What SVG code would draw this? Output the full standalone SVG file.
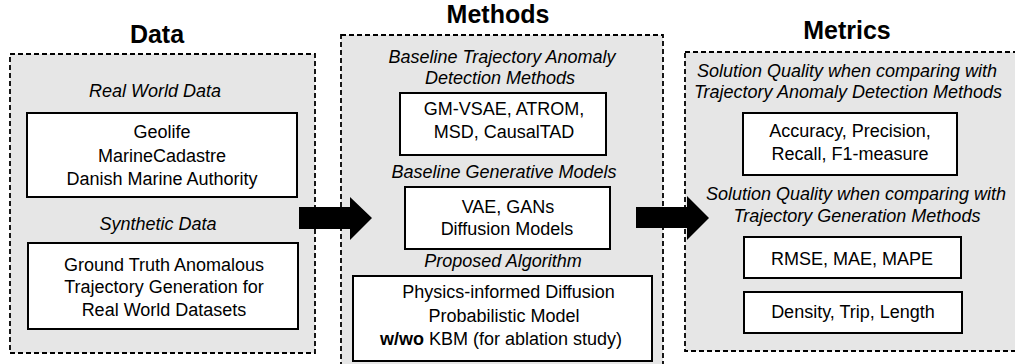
<svg xmlns="http://www.w3.org/2000/svg" width="1015" height="364" viewBox="0 0 1015 364">
<style>
.panel{fill:#e6e6e6;stroke:#000;stroke-width:1.8;stroke-dasharray:5,3}
.box{fill:#fff;stroke:#000;stroke-width:2}
text{font-family:"Liberation Sans",Arial,sans-serif;fill:#000;text-anchor:middle}
.t{font-size:25px;font-weight:bold}
.i{font-size:18px;font-style:italic}
.n{font-size:18px}
.arrow{fill:#000}
</style>
<rect width="1015" height="364" fill="#fff"/>
<g id="data">
<text class="t" x="157" y="43">Data</text>
<rect class="panel" x="10" y="54" width="305" height="299"/>
<text class="i" x="155" y="97">Real World Data</text>
<rect class="box" x="27" y="113" width="270" height="84"/>
<text class="n" x="162" y="138">Geolife</text>
<text class="n" x="162" y="161.5">MarineCadastre</text>
<text class="n" x="162" y="185">Danish Marine Authority</text>
<text class="i" x="158" y="230">Synthetic Data</text>
<rect class="box" x="28" y="243" width="270" height="86"/>
<text class="n" x="164" y="270.5">Ground Truth Anomalous</text>
<text class="n" x="164" y="293">Trajectory Generation for</text>
<text class="n" x="164" y="315.5">Real World Datasets</text>
</g>
<g id="methods">
<text class="t" x="498" y="23">Methods</text>
<rect class="panel" x="341" y="35" width="322" height="340"/>
<text class="i" x="502" y="63">Baseline Trajectory Anomaly</text>
<text class="i" x="500" y="84">Detection Methods</text>
<rect class="box" x="400" y="93" width="206" height="62"/>
<text class="n" x="504" y="115">GM-VSAE, ATROM,</text>
<text class="n" x="504" y="138">MSD, CausalTAD</text>
<text class="i" x="504" y="178">Baseline Generative Models</text>
<rect class="box" x="405" y="187" width="205" height="62"/>
<text class="n" x="508" y="213">VAE, GANs</text>
<text class="n" x="507" y="235">Diffusion Models</text>
<text class="i" x="503" y="267">Proposed Algorithm</text>
<rect class="box" x="353" y="276" width="299" height="85"/>
<text class="n" x="508.5" y="298">Physics-informed Diffusion</text>
<text class="n" x="504" y="322">Probabilistic Model</text>
<text class="n" x="501" y="345"><tspan font-weight="bold">w/wo</tspan> KBM (for ablation study)</text>
</g>
<g id="metrics">
<text class="t" x="847" y="39">Metrics</text>
<rect class="panel" x="685" y="52" width="340" height="299"/>
<text class="i" x="847" y="77">Solution Quality when comparing with</text>
<text class="i" x="848" y="98">Trajectory Anomaly Detection Methods</text>
<rect class="box" x="743" y="113" width="214" height="62"/>
<text class="n" x="850" y="137">Accuracy, Precision,</text>
<text class="n" x="850" y="160">Recall, F1-measure</text>
<text class="i" x="856" y="200">Solution Quality when comparing with</text>
<text class="i" x="857" y="222">Trajectory Generation Methods</text>
<rect class="box" x="744" y="237" width="217" height="41"/>
<text class="n" x="852" y="265">RMSE, MAE, MAPE</text>
<rect class="box" x="744" y="292" width="218" height="41"/>
<text class="n" x="853" y="318">Density, Trip, Length</text>
</g>
<g id="connectors">
<polygon class="arrow" points="299,207 350,207 350,197 372,218 350,240 350,229 299,229"/>
<polygon class="arrow" points="636,207 687,207 687,196 709,218 687,240 687,228 636,228"/>
</g>
</svg>
